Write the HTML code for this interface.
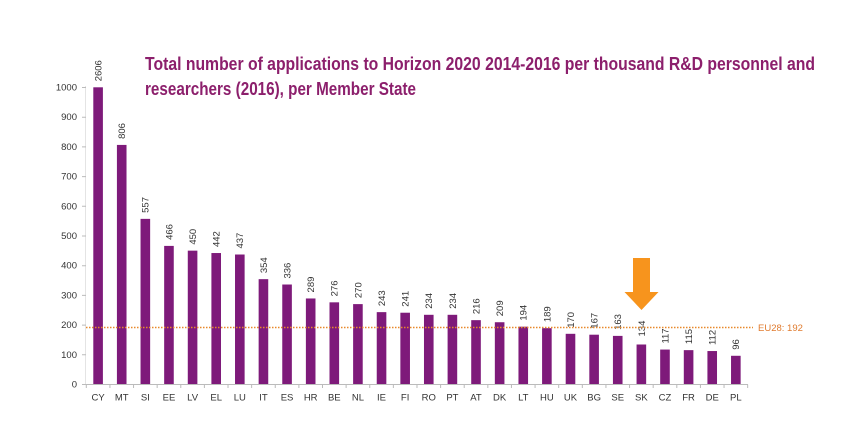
<!DOCTYPE html>
<html><head><meta charset="utf-8"><style>
html,body{margin:0;padding:0;background:#fff;}
svg{display:block;}
</style></head><body>
<svg width="863" height="431" viewBox="0 0 863 431" xmlns="http://www.w3.org/2000/svg" font-family="Liberation Sans, Arial, sans-serif">
<rect width="863" height="431" fill="#fff"/>
<text x="145" y="70" font-size="18.5" font-weight="bold" fill="#8C1F6C" textLength="670" lengthAdjust="spacingAndGlyphs">Total number of applications to Horizon 2020 2014-2016 per thousand R&amp;D personnel and</text>
<text x="145" y="95" font-size="18.5" font-weight="bold" fill="#8C1F6C" textLength="271" lengthAdjust="spacingAndGlyphs">researchers (2016), per Member State</text>
<g font-size="9.5" fill="#333" text-anchor="end">
<text x="77" y="387.5">0</text>
<text x="77" y="357.8">100</text>
<text x="77" y="328.1">200</text>
<text x="77" y="298.4">300</text>
<text x="77" y="268.7">400</text>
<text x="77" y="239">500</text>
<text x="77" y="209.3">600</text>
<text x="77" y="179.6">700</text>
<text x="77" y="149.9">800</text>
<text x="77" y="120.2">900</text>
<text x="77" y="90.5">1000</text>
</g>
<line x1="85.5" y1="86" x2="85.5" y2="384.5" stroke="#e4e4e4" stroke-width="1"/>
<path d="M82 384.5H86M82 354.8H86M82 325.1H86M82 295.4H86M82 265.7H86M82 236H86M82 206.3H86M82 176.6H86M82 146.9H86M82 117.2H86M82 87.5H86" stroke="#bbb" stroke-width="1"/>
<g fill="#7E1A7A">
<rect x="93.30" y="87.30" width="9.6" height="297.00"/>
<rect x="116.92" y="144.92" width="9.6" height="239.38"/>
<rect x="140.54" y="218.87" width="9.6" height="165.43"/>
<rect x="164.16" y="245.90" width="9.6" height="138.40"/>
<rect x="187.78" y="250.65" width="9.6" height="133.65"/>
<rect x="211.40" y="253.03" width="9.6" height="131.27"/>
<rect x="235.02" y="254.51" width="9.6" height="129.79"/>
<rect x="258.64" y="279.16" width="9.6" height="105.14"/>
<rect x="282.26" y="284.51" width="9.6" height="99.79"/>
<rect x="305.88" y="298.47" width="9.6" height="85.83"/>
<rect x="329.50" y="302.33" width="9.6" height="81.97"/>
<rect x="353.12" y="304.11" width="9.6" height="80.19"/>
<rect x="376.74" y="312.13" width="9.6" height="72.17"/>
<rect x="400.36" y="312.72" width="9.6" height="71.58"/>
<rect x="423.98" y="314.80" width="9.6" height="69.50"/>
<rect x="447.60" y="314.80" width="9.6" height="69.50"/>
<rect x="471.22" y="320.15" width="9.6" height="64.15"/>
<rect x="494.84" y="322.23" width="9.6" height="62.07"/>
<rect x="518.46" y="326.68" width="9.6" height="57.62"/>
<rect x="542.08" y="328.17" width="9.6" height="56.13"/>
<rect x="565.70" y="333.81" width="9.6" height="50.49"/>
<rect x="589.32" y="334.70" width="9.6" height="49.60"/>
<rect x="612.94" y="335.89" width="9.6" height="48.41"/>
<rect x="636.56" y="344.50" width="9.6" height="39.80"/>
<rect x="660.18" y="349.55" width="9.6" height="34.75"/>
<rect x="683.80" y="350.14" width="9.6" height="34.16"/>
<rect x="707.42" y="351.04" width="9.6" height="33.26"/>
<rect x="731.04" y="355.79" width="9.6" height="28.51"/>
</g>
<g font-size="9.5" fill="#333">
<text transform="translate(101.50,81.30) rotate(-90)">2606</text>
<text transform="translate(125.12,138.92) rotate(-90)">806</text>
<text transform="translate(148.74,212.87) rotate(-90)">557</text>
<text transform="translate(172.36,239.90) rotate(-90)">466</text>
<text transform="translate(195.98,244.65) rotate(-90)">450</text>
<text transform="translate(219.60,247.03) rotate(-90)">442</text>
<text transform="translate(243.22,248.51) rotate(-90)">437</text>
<text transform="translate(266.84,273.16) rotate(-90)">354</text>
<text transform="translate(290.46,278.51) rotate(-90)">336</text>
<text transform="translate(314.08,292.47) rotate(-90)">289</text>
<text transform="translate(337.70,296.33) rotate(-90)">276</text>
<text transform="translate(361.32,298.11) rotate(-90)">270</text>
<text transform="translate(384.94,306.13) rotate(-90)">243</text>
<text transform="translate(408.56,306.72) rotate(-90)">241</text>
<text transform="translate(432.18,308.80) rotate(-90)">234</text>
<text transform="translate(455.80,308.80) rotate(-90)">234</text>
<text transform="translate(479.42,314.15) rotate(-90)">216</text>
<text transform="translate(503.04,316.23) rotate(-90)">209</text>
<text transform="translate(526.66,320.68) rotate(-90)">194</text>
<text transform="translate(550.28,322.17) rotate(-90)">189</text>
<text transform="translate(573.90,327.81) rotate(-90)">170</text>
<text transform="translate(597.52,328.70) rotate(-90)">167</text>
<text transform="translate(621.14,329.89) rotate(-90)">163</text>
<text transform="translate(644.76,336.50) rotate(-90)">134</text>
<text transform="translate(668.38,343.55) rotate(-90)">117</text>
<text transform="translate(692.00,344.14) rotate(-90)">115</text>
<text transform="translate(715.62,345.04) rotate(-90)">112</text>
<text transform="translate(739.24,349.79) rotate(-90)">96</text>
</g>
<g font-size="9.5" fill="#333" text-anchor="middle">
<text x="98.10" y="400.5">CY</text>
<text x="121.72" y="400.5">MT</text>
<text x="145.34" y="400.5">SI</text>
<text x="168.96" y="400.5">EE</text>
<text x="192.58" y="400.5">LV</text>
<text x="216.20" y="400.5">EL</text>
<text x="239.82" y="400.5">LU</text>
<text x="263.44" y="400.5">IT</text>
<text x="287.06" y="400.5">ES</text>
<text x="310.68" y="400.5">HR</text>
<text x="334.30" y="400.5">BE</text>
<text x="357.92" y="400.5">NL</text>
<text x="381.54" y="400.5">IE</text>
<text x="405.16" y="400.5">FI</text>
<text x="428.78" y="400.5">RO</text>
<text x="452.40" y="400.5">PT</text>
<text x="476.02" y="400.5">AT</text>
<text x="499.64" y="400.5">DK</text>
<text x="523.26" y="400.5">LT</text>
<text x="546.88" y="400.5">HU</text>
<text x="570.50" y="400.5">UK</text>
<text x="594.12" y="400.5">BG</text>
<text x="617.74" y="400.5">SE</text>
<text x="641.36" y="400.5">SK</text>
<text x="664.98" y="400.5">CZ</text>
<text x="688.60" y="400.5">FR</text>
<text x="712.22" y="400.5">DE</text>
<text x="735.84" y="400.5">PL</text>
</g>
<line x1="86" y1="384.5" x2="748" y2="384.5" stroke="#bbb" stroke-width="1"/>
<path d="M86.3 384.5V388M109.92 384.5V388M133.54 384.5V388M157.16 384.5V388M180.78 384.5V388M204.4 384.5V388M228.02 384.5V388M251.64 384.5V388M275.26 384.5V388M298.88 384.5V388M322.5 384.5V388M346.12 384.5V388M369.74 384.5V388M393.36 384.5V388M416.98 384.5V388M440.6 384.5V388M464.22 384.5V388M487.84 384.5V388M511.46 384.5V388M535.08 384.5V388M558.7 384.5V388M582.32 384.5V388M605.94 384.5V388M629.56 384.5V388M653.18 384.5V388M676.8 384.5V388M700.42 384.5V388M724.04 384.5V388M747.66 384.5V388" stroke="#bbb" stroke-width="1"/>
<line x1="86" y1="327.5" x2="753" y2="327.5" stroke="#E8892B" stroke-width="1.5" stroke-dasharray="1.5,1.5"/>
<text x="758" y="331" font-size="9.5" fill="#E07B2E">EU28: 192</text>
<polygon points="633,258 650,258 650,292 658.5,292 641.5,310 624.5,292 633,292" fill="#F7941D"/>
</svg>
</body></html>
